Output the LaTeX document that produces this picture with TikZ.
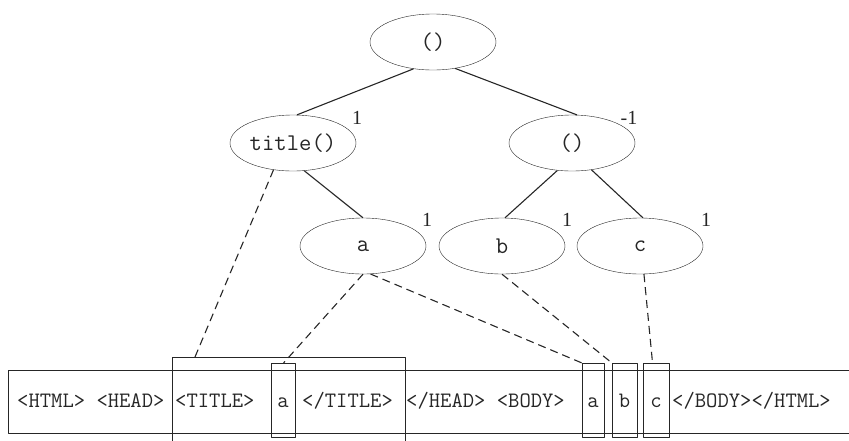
\documentclass[tikz,border=0pt]{standalone}
\usepackage{fontspec}
\setmainfont{Liberation Serif}
\usetikzlibrary{shapes.geometric,calc}
\tikzset{
  tnode/.style={draw, ellipse, minimum width=126pt, minimum height=56pt, inner sep=0pt, font=\ttfamily\fontsize{24}{26}\selectfont},
  edge/.style={draw, line width=1.1pt},
  link/.style={draw, line width=1.1pt, dash pattern=on 8pt off 5pt},
  weight/.style={font=\fontsize{20}{22}\selectfont, inner sep=0pt},
  boxline/.style={draw, line width=1.1pt},
  strtext/.style={font=\ttfamily\fontsize{22}{24}\selectfont, inner sep=0pt, anchor=base},
}
\begin{document}
\begin{tikzpicture}[x=1pt,y=-1pt, line join=round, color=black!85]
\useasboundingbox (0,0) rectangle (849,440);
% tree nodes
\node[tnode] (root) at (433,42) {()};
\node[tnode] (title) at (293,143) {title()};
\node[tnode] (grp) at (572,143) {()};
\node[tnode] (na) at (363,246) {a};
\node[tnode] (nb) at (502,246) {b};
\node[tnode] (nc) at (640,246) {c};
% weights
\node[weight] (w1) at (357,118) {1};
\node[weight] (w2) at (629,118) {-1};
\node[weight] (w3) at (427,220) {1};
\node[weight] (w4) at (567,220) {1};
\node[weight] (w5) at (706,220) {1};
% tree edges
\draw[edge] (root.234) -- (title.82);
\draw[edge] (root.310) -- (grp.80);
\draw[edge] (title.292) -- (na.90);
\draw[edge] (grp.242) -- (nb.84);
\draw[edge] (grp.306) -- (nc.84);
% string boxes
\node[boxline, minimum width=860pt, minimum height=62.5pt, inner sep=0pt, anchor=north west] (str) at (8,370) {};
\node[boxline, minimum width=233pt, minimum height=110pt, inner sep=0pt, anchor=north west] (tbox) at (172,357) {};
\node[boxline, minimum width=24pt, minimum height=74pt, inner sep=0pt, anchor=north west] (abox1) at (271,363) {};
\node[boxline, minimum width=22pt, minimum height=74pt, inner sep=0pt, anchor=north west] (abox2) at (582,363) {};
\node[boxline, minimum width=25pt, minimum height=74pt, inner sep=0pt, anchor=north west] (bbox) at (612,363) {};
\node[boxline, minimum width=26pt, minimum height=74pt, inner sep=0pt, anchor=north west] (cbox) at (643,363) {};
% texts
\node[strtext, anchor=base west] (s1) at (17,407) {<HTML> <HEAD>};
\node[strtext, anchor=base west] (s2) at (175,407) {<TITLE>};
\node[strtext] (s3) at (283,407) {a};
\node[strtext, anchor=base west] (s4) at (302,407) {</TITLE>};
\node[strtext, anchor=base west] (s5) at (406,407) {</HEAD> <BODY>};
\node[strtext] (s6) at (593,407) {a};
\node[strtext] (s7) at (624.5,407) {b};
\node[strtext] (s8) at (656,407) {c};
\node[strtext, anchor=base west] (s9) at (672,407) {</BODY></HTML>};
% dashed links
\coordinate (tt) at (195,357);
\draw[link] (title.234) -- (tt);
\draw[link] (na.270) -- (abox1.north);
\draw[link] (na.285) -- (abox2.north west);
\draw[link] (nb.270) -- (bbox.north west);
\draw[link] (nc.278) -- ([xshift=-4pt]cbox.north);
\end{tikzpicture}
\end{document}
